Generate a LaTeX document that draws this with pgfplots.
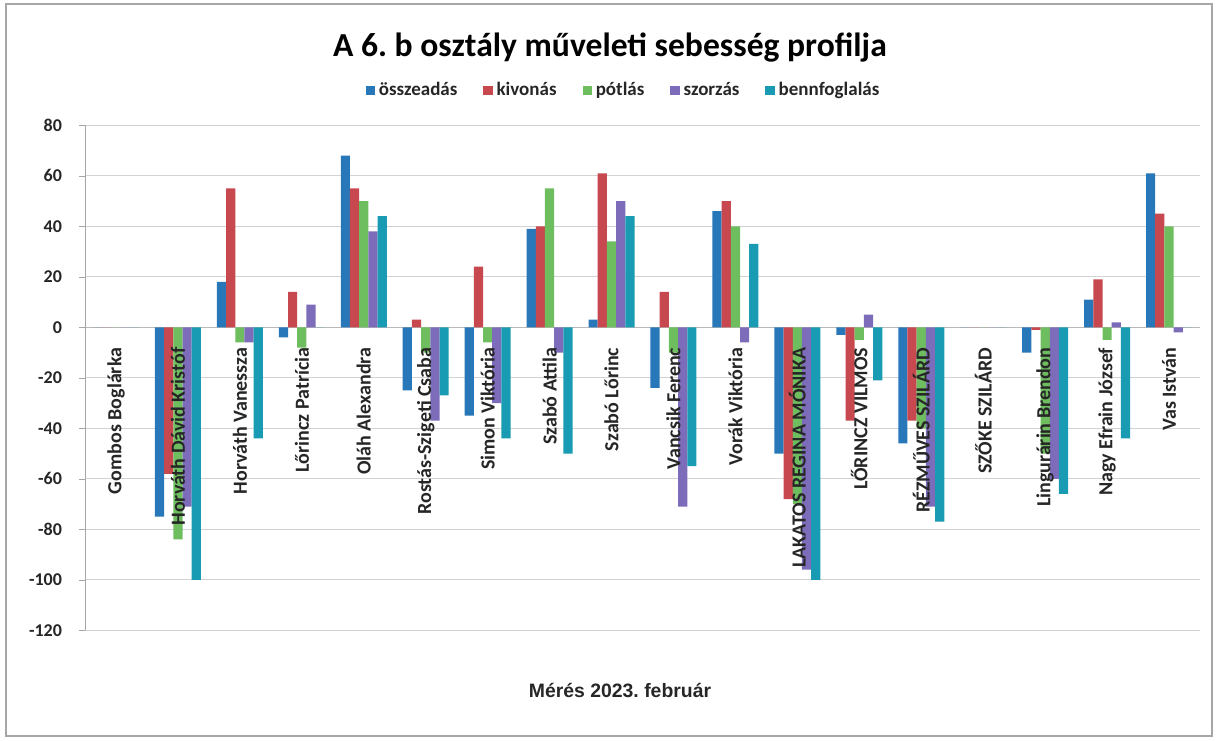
\documentclass[border=0pt]{standalone}
\usepackage{fontspec}
\setmainfont{Carlito}
\newfontfamily\arialfont{Liberation Sans}
\usepackage{pgfplots}
\pgfplotsset{compat=1.18}
\frenchspacing
\pgfplotsset{layers/mylayers/.define layer set={axis background,axis grid,axis lines,pre main,main,axis ticks,axis tick labels,axis descriptions,axis foreground}{/pgfplots/layers/standard}}
\definecolor{cA}{RGB}{40,120,185}
\definecolor{cB}{RGB}{200,72,80}
\definecolor{cC}{RGB}{110,190,95}
\definecolor{cD}{RGB}{125,108,185}
\definecolor{cE}{RGB}{25,155,180}
\begin{document}
\begin{tikzpicture}[x=1pt,y=1pt]
\path (0,0) rectangle (609,370);
\draw[gray!70, line width=0.8pt] (3,2) rectangle (606,368);
\node[font=\bfseries\fontsize{16.8}{20}\selectfont] at (305,346) {A 6. b osztály műveleti sebesség profilja};
\begin{axis}[
  set layers=mylayers,
  at={(42.5pt,54.85pt)}, anchor=south west,
  scale only axis, width=557.5pt, height=252.5pt,
  xmin=-0.5, xmax=17.5, ymin=-120, ymax=80,
  ytick={-120,-100,...,80},
  xtick={0,...,17},
  xticklabels={Gombos Boglárka, Horváth Dávid Kristóf, Horváth Vanessza, Lőrincz Patrícia, Oláh Alexandra, Rostás-Szigeti Csaba, Simon Viktória, Szabó Attila, Szabó Lőrinc, Vancsik Ferenc, Vorák Viktória, LAKATOS REGINA MÓNIKA, LŐRINCZ VILMOS, RÉZMŰVES SZILÁRD, SZŐKE SZILÁRD, Lingurárin Brendon, Nagy Efrain József, Vas István},
  axis x line=middle, axis y line=left, axis line style={-},
  hide obscured x ticks=false, hide obscured y ticks=false,
  x axis line style={draw=gray!55},
  y axis line style={draw=gray!70},
  ymajorgrids, grid style={gray!35, line width=0.6pt},
  ybar=0pt, bar width=4.6pt,
  xtick style={draw=none},
  ytick style={draw=gray!70}, tick align=outside, major tick length=3pt,
  /pgf/number format/assume math mode=true,
  yticklabel style={font=\bfseries\fontsize{9}{10}\selectfont, text=black!85},
  yticklabel shift=5pt,
  xticklabel style={rotate=90, anchor=east, font=\bfseries\fontsize{10}{11}\selectfont, inner sep=0pt, text=black!85},
  xticklabel shift=7pt,
  legend columns=5,
  legend style={at={(0.5,1)}, anchor=center, yshift=17.5pt, xshift=-9pt, draw=none, fill=none,
    font=\bfseries\fontsize{9.5}{11}\selectfont, text=black!85,
    /tikz/every even column/.append style={column sep=11pt}},
  legend image code/.code={\fill[#1] (0pt,-2.3pt) rectangle (4.6pt,2.3pt);},
]
\addplot[fill=cA, draw=none] coordinates {(0,0) (1,-75) (2,18) (3,-4) (4,68) (5,-25) (6,-35) (7,39) (8,3) (9,-24) (10,46) (11,-50) (12,-3) (13,-46) (14,0) (15,-10) (16,11) (17,61)};
\addplot[fill=cB, draw=none] coordinates {(0,0) (1,-58) (2,55) (3,14) (4,55) (5,3) (6,24) (7,40) (8,61) (9,14) (10,50) (11,-68) (12,-37) (13,-37) (14,0) (15,-1) (16,19) (17,45)};
\addplot[fill=cC, draw=none] coordinates {(0,0) (1,-84) (2,-6) (3,-8) (4,50) (5,-10) (6,-6) (7,55) (8,34) (9,-10) (10,40) (11,-70) (12,-5) (13,-40) (14,0) (15,-50) (16,-5) (17,40)};
\addplot[fill=cD, draw=none] coordinates {(0,0) (1,-71) (2,-6) (3,9) (4,38) (5,-37) (6,-30) (7,-10) (8,50) (9,-71) (10,-6) (11,-96) (12,5) (13,-71) (14,0) (15,-60) (16,2) (17,-2)};
\addplot[fill=cE, draw=none] coordinates {(0,0) (1,-100) (2,-44) (3,0) (4,44) (5,-27) (6,-44) (7,-50) (8,44) (9,-55) (10,33) (11,-100) (12,-21) (13,-77) (14,0) (15,-66) (16,-44) (17,0)};
\legend{összeadás, kivonás, pótlás, szorzás, bennfoglalás}
\end{axis}
\node[font=\arialfont\bfseries\fontsize{9.7}{11}\selectfont, text=black!85] at (310,25) {Mérés 2023. február};
\end{tikzpicture}
\end{document}
